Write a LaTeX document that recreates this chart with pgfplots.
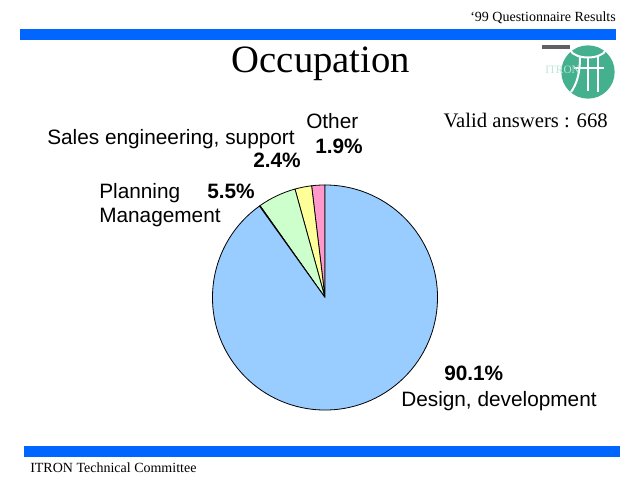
\documentclass[border=0pt]{standalone}
\usepackage{pgfplots}
\usepackage{pgfplotstable}
\pgfplotsset{compat=1.18}
\usepackage{fontspec}
\setmainfont{Liberation Serif}
\newfontfamily\arial{Liberation Sans}

\definecolor{barblue}{HTML}{0066FF}
\definecolor{pieBlue}{HTML}{99CCFF}
\definecolor{pieGreen}{HTML}{CCFFCC}
\definecolor{pieYellow}{HTML}{FFFF99}
\definecolor{piePink}{HTML}{FF99CC}
\definecolor{logoGreen}{HTML}{44B08E}
\definecolor{logoText}{HTML}{BCE8D6}

% slices, counterclockwise from the top
\pgfplotstableread[col sep=comma]{
label,value,color
Other,1.9,piePink
Sales,2.4,pieYellow
Planning,5.5,pieGreen
None,0.1,pieBlue
Design,90.1,pieBlue
}\pietable

\begin{document}
\begin{tikzpicture}
\begin{axis}[
  hide axis, scale only axis, clip=false,
  width=480pt, height=360pt,
  xmin=0, xmax=640, ymin=0, ymax=480, y dir=reverse,
]
\addplot[draw=none] coordinates {(0,0) (640,480)};

% page furniture
\fill[white] (axis cs:0,0) rectangle (axis cs:640,480);
\fill[barblue] (axis cs:20,29) rectangle (axis cs:616,40);
\fill[barblue] (axis cs:24,446) rectangle (axis cs:620,457);
\node[anchor=base east, inner sep=0, font=\fontsize{10.5}{12}\selectfont] at (axis cs:616,21) {‘99 Questionnaire Results};
\node[anchor=base west, inner sep=0, font=\fontsize{10.5}{12}\selectfont] at (axis cs:30,472) {ITRON Technical Committee};
\node[anchor=base, inner sep=0, font=\fontsize{29}{33}\selectfont] at (axis cs:321,72) {Occupation};

% logo
\fill[black!62] (axis cs:542,45) rectangle (axis cs:570,49);
\fill[logoGreen] (axis cs:588,72) circle[radius=20pt];
\draw[white, line width=1.5pt] (axis cs:570,50) .. controls (axis cs:575,60) and (axis cs:601,60) .. (axis cs:606,50);
\draw[white, line width=1.2pt] (axis cs:588,57) -- (axis cs:588,91);
\draw[white, line width=1.0pt] (axis cs:574,68) -- (axis cs:604,68);
\draw[white, line width=1.5pt] (axis cs:580,57) .. controls (axis cs:580,75) and (axis cs:576,85) .. (axis cs:571,92);
\draw[white, line width=1.5pt] (axis cs:598,57) -- (axis cs:598,92);
\node[anchor=base west, inner sep=0, text=logoText, font=\fontsize{8.5}{10}\selectfont] at (axis cs:545,73) {ITRON};

\node[anchor=base east, inner sep=0, font=\fontsize{15.5}{18}\selectfont] at (axis cs:608,127) {Valid answers : 668};

% pie
\pgfplotsextra{
  \pgfplotstablegetrowsof{\pietable}
  \pgfmathtruncatemacro\nrows{\pgfplotsretval-1}
  \gdef\cumul{0}
  \foreach \i in {0,...,\nrows}{
    \pgfplotstablegetelem{\i}{value}\of\pietable \let\v\pgfplotsretval
    \pgfplotstablegetelem{\i}{color}\of\pietable \let\c\pgfplotsretval
    \pgfmathsetmacro\a{90+3.6*\cumul}
    \pgfmathsetmacro\b{90+3.6*(\cumul+\v)}
    \filldraw[fill=\c, draw=black, line width=0.6pt, line join=round]
      (axis cs:325,297.5) -- ++(\a:84.4pt) arc[start angle=\a, end angle=\b, radius=84.4pt] -- cycle;
    \pgfmathsetmacro\newc{\cumul+\v}
    \xdef\cumul{\newc}
  }
}

% labels
\tikzset{lab/.style={anchor=base west, inner sep=0, font=\arial\fontsize{15.6}{18}\selectfont},
         pct/.style={anchor=base west, inner sep=0, font=\arial\bfseries\fontsize{15.6}{18}\selectfont}}
\node[lab] at (axis cs:306,128) {Other};
\node[pct] at (axis cs:315,153) {1.9\%};
\node[lab] at (axis cs:47,144) {Sales engineering, support};
\node[pct] at (axis cs:253,167) {2.4\%};
\node[lab] at (axis cs:99,198) {Planning};
\node[pct] at (axis cs:207,198) {5.5\%};
\node[lab] at (axis cs:99,222) {Management};
\node[pct] at (axis cs:444,380) {90.1\%};
\node[lab] at (axis cs:401,406) {Design, development};
\end{axis}
\end{tikzpicture}
\end{document}
